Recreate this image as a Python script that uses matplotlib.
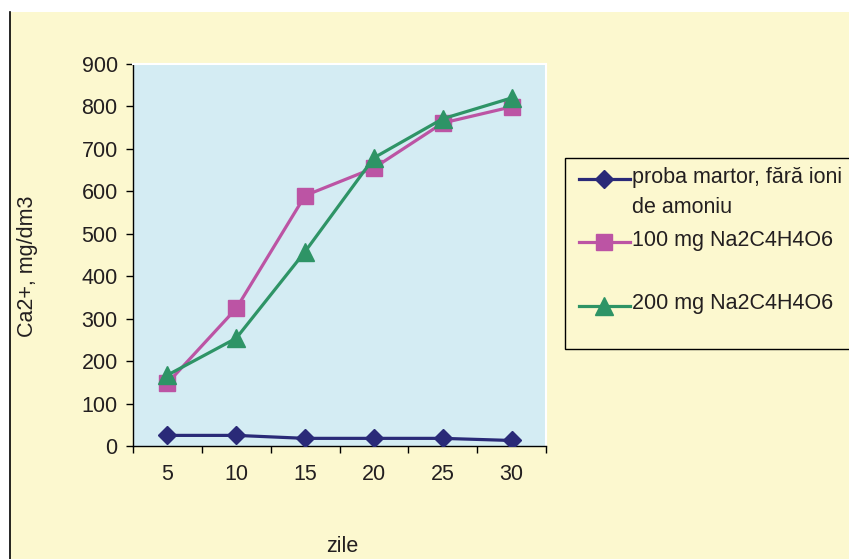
import matplotlib
matplotlib.use("Agg")
import matplotlib.pyplot as plt
import numpy as np
from matplotlib.patches import Rectangle
from matplotlib.lines import Line2D
from matplotlib.legend_handler import HandlerLine2D

# ---- data ----
days = [5, 10, 15, 20, 25, 30]
martor = [25, 25, 18, 18, 18, 13]
mg100 = [148, 324, 590, 655, 761, 799]
mg200 = [167, 254, 458, 679, 771, 820]
yticks = [0, 100, 200, 300, 400, 500, 600, 700, 800, 900]
labels = ["proba martor, fără ioni\nde amoniu",
          "100 mg Na2C4H4O6\n",
          "200 mg Na2C4H4O6\n"]

plt.rcParams['font.family'] = ['Liberation Sans', 'DejaVu Sans']
TXT = '#231f20'
CREAM = '#fcf8cf'
PLOTBG = '#d4ecf3'
NAVY = '#2a2a78'
MAG = '#bc54a4'
GRN = '#2e9466'
FS = 15.5

W, H = 849, 559
fig = plt.figure(figsize=(W / 100, H / 100), dpi=100)
fig.patch.set_facecolor('white')
fig.patches.append(Rectangle((10 / W, 0), 1 - 10 / W, 1 - 12 / H, transform=fig.transFigure,
                             facecolor=CREAM, edgecolor='none', zorder=-10))
fig.add_artist(Line2D([10 / W, 10 / W], [0, 1 - 12 / H], transform=fig.transFigure,
                      color='black', lw=1.2))

ax = fig.add_axes([133 / W, 1 - 446 / H, (546 - 133) / W, (446 - 64) / H])
ax.set_facecolor(PLOTBG)

lw = 2.3
l1, = ax.plot(days, martor, color=NAVY, lw=lw, marker='D', markersize=9,
              markeredgecolor=NAVY, zorder=3)
l2, = ax.plot(days, mg100, color=MAG, lw=lw, marker='s', markersize=11,
              markeredgecolor=MAG, zorder=4)
l3, = ax.plot(days, mg200, color=GRN, lw=lw, marker='^', markersize=13,
              markeredgecolor=GRN, zorder=5)

ax.set_xlim(2.5, 32.5)
ax.set_ylim(0, 900)
ax.set_yticks(yticks)
ax.set_xticks(days)
ax.set_xticks([2.5, 7.5, 12.5, 17.5, 22.5, 27.5, 32.5], minor=True)
ax.tick_params(axis='x', which='major', length=0, pad=13, labelsize=FS, labelcolor=TXT)
ax.tick_params(axis='x', which='minor', length=5, width=1, direction='out', color='black')
ax.tick_params(axis='y', which='major', length=5, width=1, direction='out', pad=6,
               labelsize=FS, labelcolor=TXT, color='black')
for s in ['left', 'bottom']:
    ax.spines[s].set_color('black')
    ax.spines[s].set_linewidth(1)
for s in ['top', 'right']:
    ax.spines[s].set_color('white')
    ax.spines[s].set_linewidth(1.5)

fig.text(28 / W, 1 - 266 / H, 'Ca2+, mg/dm3', rotation=90, ha='center', va='center',
         fontsize=FS, color=TXT)
fig.text(342 / W, 1 - 547 / H, 'zile', ha='center', va='center', fontsize=FS, color=TXT)


class UpHandler(HandlerLine2D):
    def __init__(self, shift, **kw):
        super().__init__(**kw)
        self.shift = shift

    def create_artists(self, legend, orig_handle, xdescent, ydescent, width, height,
                       fontsize, trans):
        return super().create_artists(legend, orig_handle, xdescent,
                                      ydescent - self.shift * fontsize, width, height,
                                      fontsize, trans)


hm = {l1: UpHandler(1.32, xpad=0.25), l2: UpHandler(1.32, xpad=0.25),
      l3: UpHandler(1.08, xpad=0.25)}
leg = fig.legend([l1, l2, l3], labels, loc='upper left',
                 bbox_to_anchor=(565 / W, 1 - 158 / H), bbox_transform=fig.transFigure,
                 borderaxespad=0, fontsize=FS, frameon=True, fancybox=False,
                 edgecolor='black', facecolor=CREAM, framealpha=1,
                 handlelength=2.6, handletextpad=0.12, labelspacing=0.55,
                 borderpad=0.4, handler_map=hm)
leg.get_frame().set_linewidth(1)
for i, t in enumerate(leg.get_texts()):
    t.set_color(TXT)
    t.set_linespacing(1.6 if i < 2 else 1.3)

fig.savefig('out.png', dpi=100)
